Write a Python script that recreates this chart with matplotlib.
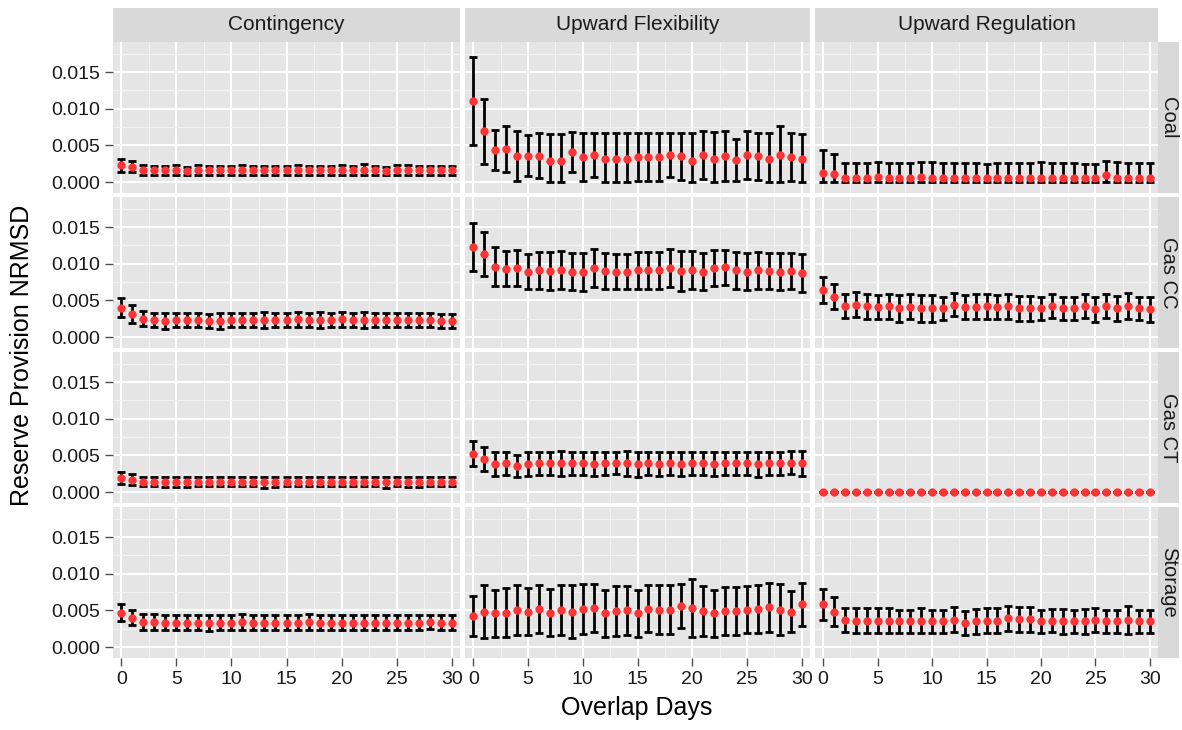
import matplotlib
matplotlib.use("Agg")
import matplotlib.pyplot as plt
import numpy as np

plt.rcParams["font.family"] = ["Liberation Sans", "DejaVu Sans"]

days = np.arange(31)
col_names = ["Contingency", "Upward Flexibility", "Upward Regulation"]
row_names = ["Coal", "Gas CC", "Gas CT", "Storage"]

# --- Contingency ---
cont_coal_mean = [0.0023, 0.0021, 0.0016, 0.0016, 0.0016, 0.0016, 0.0015, 0.0016, 0.0016, 0.0016,
                  0.0016, 0.0016, 0.0016, 0.0016, 0.0016, 0.0016, 0.0016, 0.0016, 0.0016, 0.0016,
                  0.0016, 0.0016, 0.0017, 0.0016, 0.0015, 0.0016, 0.0016, 0.0016, 0.0016, 0.0016, 0.0016]
cont_coal_sd = [0.0009, 0.0008, 0.0007, 0.0006, 0.0006, 0.0007, 0.0006, 0.0007, 0.0006, 0.0006,
                0.0006, 0.0007, 0.0006, 0.0006, 0.0006, 0.0006, 0.0007, 0.0006, 0.0006, 0.0006,
                0.0007, 0.0006, 0.0007, 0.0006, 0.0006, 0.0007, 0.0007, 0.0006, 0.0006, 0.0006, 0.0006]
cont_gascc_mean = [0.0040, 0.0031, 0.0025, 0.0023, 0.0022, 0.0023, 0.0023, 0.0023, 0.0022, 0.0022,
                   0.0023, 0.0023, 0.0023, 0.0023, 0.0023, 0.0023, 0.0024, 0.0023, 0.0023, 0.0023,
                   0.0024, 0.0023, 0.0023, 0.0023, 0.0023, 0.0023, 0.0023, 0.0023, 0.0023, 0.0022, 0.0022]
cont_gascc_sd = [0.0013, 0.0012, 0.0010, 0.0010, 0.0011, 0.0010, 0.0010, 0.0010, 0.0010, 0.0011,
                 0.0010, 0.0010, 0.0010, 0.0011, 0.0010, 0.0010, 0.0010, 0.0010, 0.0011, 0.0010,
                 0.0010, 0.0010, 0.0011, 0.0010, 0.0010, 0.0010, 0.0010, 0.0010, 0.0010, 0.0010, 0.0010]
cont_gasct_mean = [0.0019, 0.0017, 0.0014, 0.0014, 0.0014, 0.0014, 0.0014, 0.0014, 0.0014, 0.0014,
                   0.0014, 0.0014, 0.0014, 0.0013, 0.0014, 0.0014, 0.0014, 0.0014, 0.0014, 0.0014,
                   0.0014, 0.0014, 0.0014, 0.0014, 0.0013, 0.0014, 0.0014, 0.0014, 0.0014, 0.0014, 0.0014]
cont_gasct_sd = [0.0008, 0.0008, 0.0006, 0.0006, 0.0007, 0.0007, 0.0007, 0.0006, 0.0006, 0.0006,
                 0.0006, 0.0006, 0.0006, 0.0007, 0.0007, 0.0006, 0.0006, 0.0006, 0.0006, 0.0006,
                 0.0006, 0.0006, 0.0006, 0.0006, 0.0007, 0.0006, 0.0007, 0.0007, 0.0006, 0.0006, 0.0006]
cont_storage_mean = [0.0047, 0.0040, 0.0034, 0.0034, 0.0033, 0.0033, 0.0033, 0.0033, 0.0033, 0.0033,
                     0.0033, 0.0034, 0.0033, 0.0033, 0.0033, 0.0033, 0.0033, 0.0034, 0.0033, 0.0033,
                     0.0033, 0.0033, 0.0033, 0.0033, 0.0033, 0.0033, 0.0033, 0.0033, 0.0034, 0.0033, 0.0033]
cont_storage_sd = [0.0012, 0.0010, 0.0011, 0.0011, 0.0010, 0.0010, 0.0010, 0.0010, 0.0011, 0.0010,
                   0.0010, 0.0011, 0.0010, 0.0010, 0.0010, 0.0010, 0.0010, 0.0011, 0.0010, 0.0010,
                   0.0010, 0.0010, 0.0010, 0.0010, 0.0010, 0.0010, 0.0010, 0.0010, 0.0010, 0.0010, 0.0010]

# --- Upward Flexibility ---
flex_coal_mean = [0.0110, 0.0069, 0.0044, 0.0045, 0.0036, 0.0036, 0.0036, 0.0028, 0.0028, 0.0041,
                  0.0034, 0.0037, 0.0031, 0.0032, 0.0032, 0.0034, 0.0034, 0.0034, 0.0037, 0.0035,
                  0.0029, 0.0037, 0.0032, 0.0035, 0.0030, 0.0037, 0.0035, 0.0032, 0.0037, 0.0034, 0.0032]
flex_coal_sd = [0.0060, 0.0044, 0.0027, 0.0031, 0.0034, 0.0028, 0.0031, 0.0037, 0.0037, 0.0027,
                0.0033, 0.0030, 0.0036, 0.0035, 0.0035, 0.0033, 0.0033, 0.0033, 0.0030, 0.0032,
                0.0038, 0.0033, 0.0036, 0.0034, 0.0029, 0.0033, 0.0032, 0.0035, 0.0039, 0.0033, 0.0033]
flex_gascc_mean = [0.0123, 0.0113, 0.0096, 0.0093, 0.0094, 0.0089, 0.0091, 0.0090, 0.0091, 0.0089,
                   0.0089, 0.0094, 0.0090, 0.0089, 0.0089, 0.0091, 0.0091, 0.0091, 0.0094, 0.0090,
                   0.0091, 0.0089, 0.0094, 0.0095, 0.0091, 0.0089, 0.0091, 0.0090, 0.0089, 0.0090, 0.0087]
flex_gascc_sd = [0.0033, 0.0030, 0.0027, 0.0024, 0.0025, 0.0024, 0.0025, 0.0026, 0.0026, 0.0025,
                 0.0026, 0.0026, 0.0024, 0.0024, 0.0024, 0.0025, 0.0025, 0.0025, 0.0026, 0.0027,
                 0.0026, 0.0025, 0.0025, 0.0024, 0.0025, 0.0025, 0.0025, 0.0025, 0.0025, 0.0025, 0.0026]
flex_gasct_mean = [0.0052, 0.0045, 0.0038, 0.0039, 0.0036, 0.0038, 0.0039, 0.0039, 0.0039, 0.0039,
                   0.0039, 0.0038, 0.0039, 0.0039, 0.0039, 0.0038, 0.0039, 0.0038, 0.0039, 0.0038,
                   0.0039, 0.0039, 0.0038, 0.0039, 0.0039, 0.0039, 0.0038, 0.0039, 0.0039, 0.0040, 0.0039]
flex_gasct_sd = [0.0017, 0.0017, 0.0016, 0.0016, 0.0015, 0.0016, 0.0016, 0.0016, 0.0017, 0.0016,
                 0.0016, 0.0016, 0.0016, 0.0015, 0.0017, 0.0017, 0.0016, 0.0016, 0.0016, 0.0016,
                 0.0016, 0.0016, 0.0016, 0.0016, 0.0016, 0.0016, 0.0017, 0.0016, 0.0016, 0.0016, 0.0017]
flex_storage_mean = [0.0042, 0.0048, 0.0046, 0.0047, 0.0050, 0.0048, 0.0052, 0.0047, 0.0051, 0.0048,
                     0.0052, 0.0053, 0.0046, 0.0049, 0.0050, 0.0046, 0.0052, 0.0051, 0.0051, 0.0056,
                     0.0053, 0.0049, 0.0046, 0.0049, 0.0049, 0.0051, 0.0052, 0.0054, 0.0051, 0.0048, 0.0058]
flex_storage_sd = [0.0027, 0.0036, 0.0032, 0.0033, 0.0034, 0.0032, 0.0033, 0.0032, 0.0034, 0.0036,
                   0.0034, 0.0033, 0.0032, 0.0034, 0.0033, 0.0032, 0.0032, 0.0033, 0.0033, 0.0030,
                   0.0040, 0.0034, 0.0032, 0.0033, 0.0033, 0.0032, 0.0033, 0.0034, 0.0035, 0.0028, 0.0029]

# --- Upward Regulation ---
reg_coal_mean = [0.0012, 0.0011, 0.0006, 0.0006, 0.0006, 0.0007, 0.0006, 0.0006, 0.0006, 0.0007,
                 0.0006, 0.0006, 0.0006, 0.0006, 0.0006, 0.0005, 0.0006, 0.0006, 0.0006, 0.0006,
                 0.0006, 0.0006, 0.0006, 0.0006, 0.0005, 0.0005, 0.0009, 0.0006, 0.0006, 0.0006, 0.0006]
reg_coal_sd = [0.0031, 0.0027, 0.0020, 0.0020, 0.0020, 0.0020, 0.0020, 0.0020, 0.0020, 0.0020,
               0.0021, 0.0020, 0.0020, 0.0020, 0.0020, 0.0020, 0.0020, 0.0020, 0.0020, 0.0020,
               0.0021, 0.0020, 0.0020, 0.0020, 0.0020, 0.0020, 0.0019, 0.0021, 0.0020, 0.0020, 0.0020]
reg_gascc_mean = [0.0064, 0.0055, 0.0042, 0.0044, 0.0042, 0.0041, 0.0042, 0.0039, 0.0041, 0.0039,
                  0.0039, 0.0039, 0.0044, 0.0041, 0.0041, 0.0042, 0.0041, 0.0042, 0.0039, 0.0039,
                  0.0039, 0.0042, 0.0039, 0.0039, 0.0042, 0.0038, 0.0042, 0.0039, 0.0042, 0.0039, 0.0038]
reg_gascc_sd = [0.0018, 0.0017, 0.0016, 0.0017, 0.0017, 0.0016, 0.0017, 0.0018, 0.0017, 0.0018,
                0.0018, 0.0016, 0.0016, 0.0016, 0.0017, 0.0017, 0.0016, 0.0017, 0.0017, 0.0017,
                0.0016, 0.0016, 0.0016, 0.0016, 0.0016, 0.0017, 0.0016, 0.0017, 0.0018, 0.0016, 0.0017]
reg_gasct_mean = [0.0, 0.0, 0.0, 0.0, 0.0, 0.0, 0.0, 0.0, 0.0, 0.0,
                  0.0, 0.0, 0.0, 0.0, 0.0, 0.0, 0.0, 0.0, 0.0, 0.0,
                  0.0, 0.0, 0.0, 0.0, 0.0, 0.0, 0.0, 0.0, 0.0, 0.0, 0.0]
reg_gasct_sd = [0.0, 0.0, 0.0, 0.0, 0.0, 0.0, 0.0, 0.0, 0.0, 0.0,
                0.0, 0.0, 0.0, 0.0, 0.0, 0.0, 0.0, 0.0, 0.0, 0.0,
                0.0, 0.0, 0.0, 0.0, 0.0, 0.0, 0.0, 0.0, 0.0, 0.0, 0.0]
reg_storage_mean = [0.0058, 0.0048, 0.0037, 0.0036, 0.0036, 0.0036, 0.0036, 0.0035, 0.0035, 0.0036,
                    0.0035, 0.0035, 0.0037, 0.0033, 0.0035, 0.0036, 0.0036, 0.0039, 0.0038, 0.0038,
                    0.0035, 0.0036, 0.0035, 0.0035, 0.0035, 0.0037, 0.0035, 0.0035, 0.0037, 0.0035, 0.0035]
reg_storage_sd = [0.0021, 0.0020, 0.0016, 0.0017, 0.0017, 0.0017, 0.0017, 0.0016, 0.0016, 0.0017,
                  0.0016, 0.0016, 0.0017, 0.0016, 0.0017, 0.0017, 0.0017, 0.0017, 0.0017, 0.0017,
                  0.0016, 0.0016, 0.0017, 0.0016, 0.0017, 0.0016, 0.0016, 0.0016, 0.0019, 0.0016, 0.0016]

grid = [
    [(cont_coal_mean, cont_coal_sd), (flex_coal_mean, flex_coal_sd), (reg_coal_mean, reg_coal_sd)],
    [(cont_gascc_mean, cont_gascc_sd), (flex_gascc_mean, flex_gascc_sd), (reg_gascc_mean, reg_gascc_sd)],
    [(cont_gasct_mean, cont_gasct_sd), (flex_gasct_mean, flex_gasct_sd), (reg_gasct_mean, reg_gasct_sd)],
    [(cont_storage_mean, cont_storage_sd), (flex_storage_mean, flex_storage_sd), (reg_storage_mean, reg_storage_sd)],
]

W, H = 1182, 730
fig = plt.figure(figsize=(W / 100, H / 100), dpi=100)

col_px = [(113, 460), (465, 810), (815, 1158)]
row_px = [(42, 193), (197, 348), (352, 503), (507, 658)]
strip_top = (8, 42)
strip_right = (1158, 1179)


def box(x0, x1, y0, y1):
    return [x0 / W, 1 - y1 / H, (x1 - x0) / W, (y1 - y0) / H]


panel_bg = "#e5e5e5"
strip_bg = "#d9d9d9"
tick_col = "#4d4d4d"

for j, name in enumerate(col_names):
    sax = fig.add_axes(box(col_px[j][0], col_px[j][1], *strip_top))
    sax.set_facecolor(strip_bg)
    sax.set_xticks([]); sax.set_yticks([])
    for s in sax.spines.values():
        s.set_visible(False)
    sax.text(0.5, 0.5, name, ha="center", va="center", fontsize=15, color="#1a1a1a",
             transform=sax.transAxes)

for i, name in enumerate(row_names):
    sax = fig.add_axes(box(strip_right[0], strip_right[1], *row_px[i]))
    sax.set_facecolor(strip_bg)
    sax.set_xticks([]); sax.set_yticks([])
    for s in sax.spines.values():
        s.set_visible(False)
    sax.text(0.5, 0.5, name, ha="center", va="center", fontsize=14.5, color="#1a1a1a",
             rotation=-90, transform=sax.transAxes)

for i in range(4):
    for j in range(3):
        mean, sd = grid[i][j]
        mean = np.array(mean)
        sd = np.array(sd)
        lo = np.maximum(mean - sd, 0)
        ax = fig.add_axes(box(col_px[j][0], col_px[j][1], *row_px[i]))
        ax.set_facecolor(panel_bg)
        ax.set_xlim(-0.75, 30.75)
        ax.set_ylim(-0.0015, 0.0191)
        ax.set_xticks([0, 5, 10, 15, 20, 25, 30])
        ax.set_xticks([2.5, 7.5, 12.5, 17.5, 22.5, 27.5], minor=True)
        ax.set_yticks([0.0, 0.005, 0.010, 0.015])
        ax.set_yticks([0.0025, 0.0075, 0.0125, 0.0175], minor=True)
        ax.grid(which="major", color="white", lw=1.5)
        ax.grid(which="minor", color="#f2f2f2", lw=0.7)
        ax.set_axisbelow(True)
        for s in ax.spines.values():
            s.set_visible(False)
        ax.tick_params(which="minor", length=0)
        ax.tick_params(which="major", length=6, width=1, color=tick_col,
                       labelsize=14, labelcolor="#1a1a1a", pad=3)
        if j == 0:
            ax.set_yticklabels(["0.000", "0.005", "0.010", "0.015"])
        else:
            ax.tick_params(axis="y", length=0, labelleft=False)
        if i != 3:
            ax.tick_params(axis="x", length=0, labelbottom=False)
        ax.errorbar(days, mean, yerr=[mean - lo, sd], fmt="none", ecolor="black",
                    elinewidth=2.0, capsize=3.2, capthick=2.0, zorder=2)
        ax.plot(days, mean, "o", color="#ff3333", markersize=6, markeredgewidth=0, zorder=3)

fig.text(22 / W, 1 - 355 / H, "Reserve Provision NRMSD", rotation=90, ha="center",
         va="center", fontsize=18, color="black")
fig.text(637 / W, 1 - 708 / H, "Overlap Days", ha="center", va="center", fontsize=18,
         color="black")

fig.savefig("out.png", dpi=100)
